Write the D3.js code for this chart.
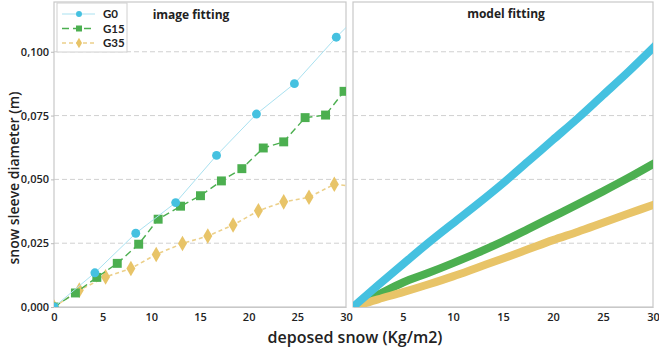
<!DOCTYPE html>
<html>
<head>
<meta charset="utf-8">
<script src="https://cdn.jsdelivr.net/npm/d3@7"></script>
<style>
  body { margin: 0; background: #fff; }
  text { font-family: "Open Sans", "DejaVu Sans", sans-serif; fill: #222; }
  .tick text { font-size: 11px; font-weight: 600; }
  .grid line { stroke: #d0d0d0; stroke-dasharray: 5,3; }
  .legend text { font-family: Lato, "Open Sans", sans-serif; font-size: 11.5px; font-weight: 700; }
</style>
</head>
<body>
<div id="chart"></div>
<script>
// image fitting (measured points)
const imgG0x  = [0, 4.2, 8.4, 12.5, 16.7, 20.8, 24.7, 29.0, 31.0];
const imgG0y  = [0, 0.0134, 0.0289, 0.0409, 0.0594, 0.0756, 0.0875, 0.1057, 0.1133];
const imgG15x = [0, 2.2, 4.4, 6.5, 8.7, 10.7, 13.0, 15.05, 17.2, 19.3, 21.5, 23.6, 25.8, 27.9, 29.8];
const imgG15y = [0, 0.0055, 0.0116, 0.0171, 0.0246, 0.0344, 0.0395, 0.0436, 0.0494, 0.0542, 0.0623, 0.0647, 0.0742, 0.0752, 0.0845];
const imgG35x = [0, 2.6, 5.3, 7.9, 10.5, 13.2, 15.8, 18.4, 21.0, 23.6, 26.2, 28.8, 31.0];
const imgG35y = [0, 0.0066, 0.0118, 0.0151, 0.0206, 0.0249, 0.0278, 0.0321, 0.0377, 0.0412, 0.0430, 0.0481, 0.0471];

// model fitting
const modelX   = [0, 2.5, 5, 7.5, 10, 12.5, 15, 17.5, 20, 22.5, 25, 27.5, 30];
const modelG0  = [0, 0.0085, 0.0168, 0.0250, 0.0328, 0.0405, 0.0485, 0.0570, 0.0655, 0.0740, 0.0830, 0.0920, 0.1015];
const modelG15 = [0, 0.0048, 0.0096, 0.0133, 0.0172, 0.0213, 0.0257, 0.0305, 0.0354, 0.0403, 0.0453, 0.0505, 0.0560];
const modelG35 = [0, 0.0030, 0.0058, 0.0088, 0.0120, 0.0155, 0.0190, 0.0226, 0.0262, 0.0295, 0.0330, 0.0365, 0.0400];

const seriesNames = ['G0', 'G15', 'G35'];
const xTicks = [0, 5, 10, 15, 20, 25, 30];
const yTicks = [0, 0.025, 0.05, 0.075, 0.1];

const W = 659, H = 353;
const plotTop = 2, plotBottom = 307;
const leftPanel = { x0: 54, x1: 346 };
const rightPanel = { x0: 353, x1: 653 };

const colors = { G0: '#45c1e0', G15: '#4caf50', G35: '#e8c468' };
const lineColors = { G0: '#a9e1f0', G15: '#4caf50', G35: '#ecd08a' };

const svg = d3.select('#chart').append('svg')
  .attr('width', W).attr('height', H);

const y = d3.scaleLinear().domain([0, 0.1195]).range([plotBottom, plotTop]);
const fmt = d => d3.format('.3f')(d).replace('.', ',');

function panel(p, id, showY) {
  const x = d3.scaleLinear().domain([0, 30]).range([p.x0, p.x1]);

  svg.append('clipPath').attr('id', id)
    .append('rect').attr('x', p.x0).attr('y', plotTop)
    .attr('width', p.x1 - p.x0).attr('height', plotBottom - plotTop);

  // grid
  svg.append('g').attr('class', 'grid')
    .selectAll('line').data(yTicks.filter(d => d > 0)).enter().append('line')
    .attr('x1', p.x0).attr('x2', p.x1)
    .attr('y1', d => y(d)).attr('y2', d => y(d));

  // frame
  svg.append('rect')
    .attr('x', p.x0).attr('y', plotTop)
    .attr('width', p.x1 - p.x0).attr('height', plotBottom - plotTop)
    .attr('fill', 'none').attr('stroke', '#c8c8c8').attr('stroke-width', 1.2);

  const xAxis = svg.append('g')
    .attr('transform', `translate(0,${plotBottom})`)
    .call(d3.axisBottom(x).tickValues(showY ? xTicks : xTicks.filter(d => d > 0))
      .tickSize(0).tickPadding(6).tickFormat(d3.format('d')));
  xAxis.select('.domain').attr('stroke', '#c8c8c8');

  if (showY) {
    const yAxis = svg.append('g')
      .attr('transform', `translate(${p.x0},0)`)
      .call(d3.axisLeft(y).tickValues(yTicks).tickSize(3).tickPadding(2).tickFormat(fmt));
    yAxis.select('.domain').remove();
    yAxis.selectAll('.tick line').attr('stroke', '#bbb');
  }

  return { x, g: svg.append('g').attr('clip-path', `url(#${id})`) };
}

// ---- left panel: image fitting
const L = panel(leftPanel, 'clipL', true);
const imgData = {
  G0: imgG0x.map((d, i) => [d, imgG0y[i]]),
  G15: imgG15x.map((d, i) => [d, imgG15y[i]]),
  G35: imgG35x.map((d, i) => [d, imgG35y[i]])
};
const lineL = d3.line().x(d => L.x(d[0])).y(d => y(d[1]));
const dashes = { G0: null, G15: '7,4', G35: '4,3' };
const widths = { G0: 1, G15: 1.4, G35: 1.6 };
const symbols = { G0: d3.symbolCircle, G15: d3.symbolSquare, G35: d3.symbolDiamond };
const symSize = { G0: 62, G15: 80, G35: 70 };

['G35', 'G15', 'G0'].forEach(s => {
  L.g.append('path').datum(imgData[s])
    .attr('d', lineL).attr('fill', 'none')
    .attr('stroke', lineColors[s]).attr('stroke-width', widths[s])
    .attr('stroke-dasharray', dashes[s]);
  L.g.selectAll(null).data(imgData[s]).enter().append('path')
    .attr('transform', d => `translate(${L.x(d[0])},${y(d[1])})`)
    .attr('d', d3.symbol().type(symbols[s]).size(symSize[s]))
    .attr('fill', colors[s]);
});

svg.append('text').attr('x', 191).attr('y', 19).attr('text-anchor', 'middle')
  .style('font-size', '12px').style('font-weight', 700).text('image fitting');

// legend
const leg = svg.append('g').attr('class', 'legend').attr('transform', 'translate(57,3)');
leg.append('rect').attr('width', 70).attr('height', 49)
  .attr('fill', '#fff').attr('stroke', '#d0d0d0');
seriesNames.forEach((s, i) => {
  const ly = 11 + i * 14.5;
  leg.append('line').attr('x1', 5).attr('x2', 38).attr('y1', ly).attr('y2', ly)
    .attr('stroke', lineColors[s]).attr('stroke-width', widths[s])
    .attr('stroke-dasharray', dashes[s]);
  leg.append('path').attr('transform', `translate(22,${ly})`)
    .attr('d', d3.symbol().type(symbols[s]).size(symSize[s] * 0.45))
    .attr('fill', colors[s]);
  leg.append('text').attr('x', 46).attr('y', ly + 4).text(s);
});

// ---- right panel: model fitting
const R = panel(rightPanel, 'clipR', false);
const modelData = {
  G0: modelX.map((d, i) => [d, modelG0[i]]),
  G15: modelX.map((d, i) => [d, modelG15[i]]),
  G35: modelX.map((d, i) => [d, modelG35[i]])
};
const lineR = d3.line().x(d => R.x(d[0])).y(d => y(d[1])).curve(d3.curveMonotoneX);
['G15', 'G35', 'G0'].forEach(s => {
  R.g.append('path').datum(modelData[s])
    .attr('d', lineR).attr('fill', 'none')
    .attr('stroke', colors[s]).attr('stroke-width', 8)
    .attr('stroke-linecap', 'square');
});

svg.append('text').attr('x', 506).attr('y', 18).attr('text-anchor', 'middle')
  .style('font-size', '12px').style('font-weight', 700).text('model fitting');

// axis titles
svg.append('text').attr('x', 355).attr('y', 343).attr('text-anchor', 'middle')
  .style('font-size', '16px').style('font-weight', 600).text('deposed snow (Kg/m2)');
svg.append('text').attr('transform', 'translate(19,178) rotate(-90)')
  .attr('text-anchor', 'middle')
  .style('font-size', '14px').style('font-weight', 600).text('snow sleeve diameter (m)');
</script>
</body>
</html>
